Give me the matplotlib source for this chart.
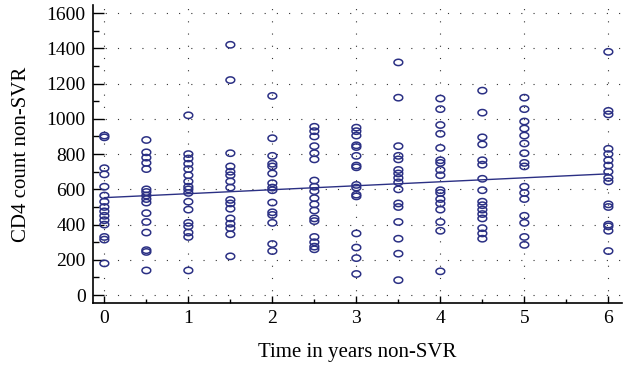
import numpy as np
import matplotlib.pyplot as plt
from matplotlib.path import Path
from matplotlib.ticker import MultipleLocator

# CD4 counts read at each follow-up time (years)
times = [0, 0.5, 1, 1.5, 2, 2.5, 3, 3.5, 4, 4.5, 5, 6]
cd4 = [
    [905, 895, 720, 685, 615, 565, 530, 500, 475, 450, 425, 400, 330, 315, 180],
    [880, 810, 780, 750, 715, 600, 585, 565, 545, 525, 465, 415, 355, 255, 245, 140],
    [1020, 800, 775, 745, 715, 680, 645, 615, 600, 580, 530, 485, 410, 390, 355, 330, 140],
    [1420, 1220, 805, 730, 700, 680, 645, 610, 540, 520, 490, 435, 405, 380, 345, 220],
    [1130, 890, 790, 745, 730, 690, 635, 610, 595, 525, 470, 455, 410, 290, 250],
    [955, 930, 900, 845, 805, 770, 650, 615, 590, 550, 515, 480, 435, 420, 330, 300, 275, 260],
    [950, 930, 905, 850, 840, 790, 735, 725, 625, 610, 570, 560, 350, 270, 210, 120],
    [1320, 1120, 845, 790, 770, 710, 690, 665, 640, 600, 520, 500, 415, 320, 235, 85],
    [1115, 1055, 965, 915, 835, 765, 750, 710, 680, 595, 580, 545, 520, 485, 415, 365, 135],
    [1160, 1035, 895, 855, 765, 740, 660, 595, 530, 510, 485, 460, 435, 380, 350, 320],
    [1120, 1055, 985, 945, 905, 860, 805, 750, 730, 615, 580, 545, 450, 410, 330, 285],
    [1380, 1045, 1025, 830, 800, 765, 735, 700, 665, 645, 515, 500, 400, 390, 365, 250],
]
# fitted regression line
fit_intercept = 553
fit_slope = 22.5

navy = '#2b3084'
plt.rcParams['font.family'] = ['Liberation Serif', 'DejaVu Serif']

x = np.concatenate([[t] * len(v) for t, v in zip(times, cd4)])
y = np.concatenate(cd4)

# open ellipse marker, wider than tall
theta = np.linspace(0, 2 * np.pi, 40)
ellipse = Path(np.column_stack([np.cos(theta), 0.72 * np.sin(theta)]))

fig = plt.figure(figsize=(6.3, 3.66), dpi=100)
ax = fig.add_axes([0.147, 0.171, 0.84, 0.815])

ax.scatter(x, y, marker=ellipse, s=40, facecolors='none', edgecolors=navy, linewidths=1.1, zorder=3)
fx = np.array([0, 6])
ax.plot(fx, fit_intercept + fit_slope * fx, color=navy, lw=1.0, zorder=4)

ax.set_xlim(-0.14, 6.16)
ax.set_ylim(-47, 1645)
ax.xaxis.set_major_locator(MultipleLocator(1))
ax.xaxis.set_minor_locator(MultipleLocator(0.5))
ax.yaxis.set_major_locator(MultipleLocator(200))
ax.yaxis.set_minor_locator(MultipleLocator(100))

ax.grid(True, which='major', color='#333333', linestyle=(0, (1, 10)), linewidth=0.8)

for s in ['top', 'right']:
    ax.spines[s].set_visible(False)
for s in ['left', 'bottom']:
    ax.spines[s].set_linewidth(1.2)

ax.tick_params(axis='y', which='major', direction='in', length=8, width=1, labelsize=14, pad=5)
ax.tick_params(axis='y', which='minor', direction='in', length=4, width=1)
ax.tick_params(axis='x', which='major', direction='in', length=5, width=1, labelsize=14, pad=5)
ax.tick_params(axis='x', which='minor', direction='in', length=3, width=1)

ax.set_xlabel('Time in years non-SVR', fontsize=15, labelpad=11)
ax.set_ylabel('CD4 count non-SVR', fontsize=15, labelpad=11)

fig.savefig('out.png', dpi=100)
